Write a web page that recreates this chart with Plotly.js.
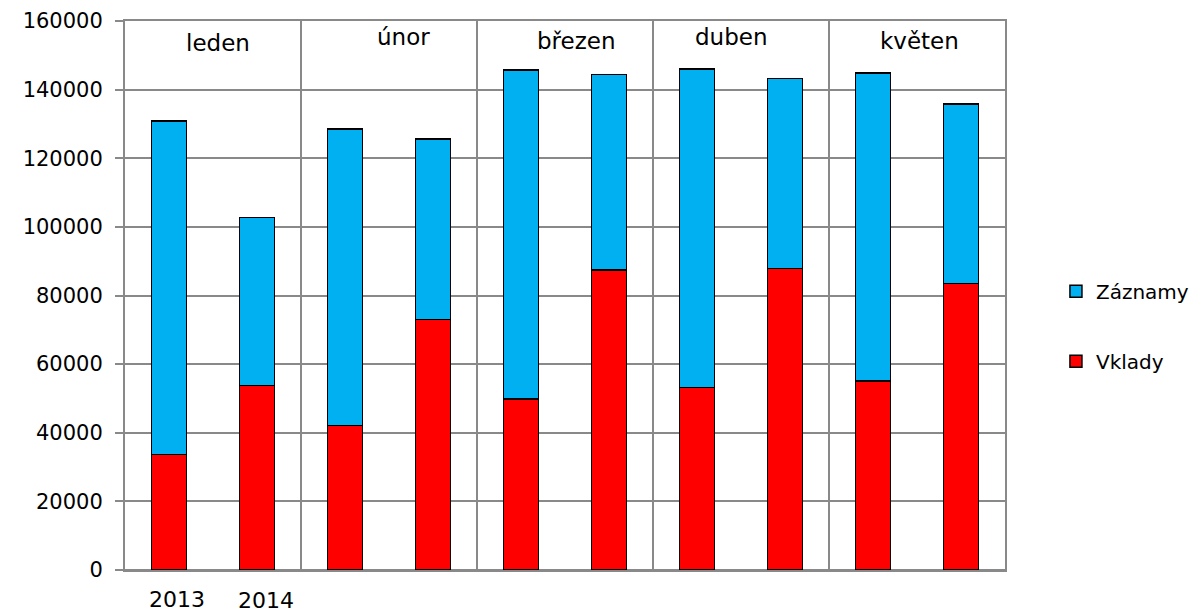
<!DOCTYPE html>
<html>
<head>
<meta charset="utf-8">
<script src="https://cdn.plot.ly/plotly-3.0.1.min.js"></script>
<style>html,body{margin:0;padding:0;background:#fff;}#chart{width:1196px;height:614px;}</style>
</head>
<body>
<div id="chart"></div>
<script>
// Data
const months = ["leden", "únor", "březen", "duben", "květen"];
const years = ["2013", "2014"];
const vklady = [33650, 53700, 42100, 73000, 49800, 87450, 53200, 87900, 55150, 83450];
const zaznamy = [97250, 49100, 86400, 52550, 95900, 57000, 92850, 55400, 89750, 52400];
const yTicks = [0, 20000, 40000, 60000, 80000, 100000, 120000, 140000, 160000];

const FONT = "DejaVu Sans";
const GRID = "#898989";
const xs = vklady.map((_, i) => i);
const monthBounds = months.map((_, i) => i * 2 - 0.5).concat([months.length * 2 - 0.5]);

const traces = [
  {type: "bar", name: "Vklady", x: xs, y: vklady, legendgroup: "v", legendrank: 2,
   marker: {color: "#FF0000", line: {color: "#000000", width: 1.5}}, width: 0.4},
  {type: "bar", name: "Záznamy", x: xs, y: zaznamy, legendgroup: "z", legendrank: 1,
   marker: {color: "#00B0F0", line: {color: "#000000", width: 1.5}}, width: 0.4}
];

const monthPos = [[0.106, 0.960], [0.316, 0.971], [0.5136, 0.9636], [0.689, 0.971], [0.903, 0.9636]];
const annotations = months.map((m, i) => ({
  text: m, xref: "paper", yref: "paper", x: monthPos[i][0], y: monthPos[i][1],
  showarrow: false, xanchor: "center", yanchor: "middle",
  font: {family: FONT, size: 23, color: "#000"}
}));
const yearPos = [[0.059, -0.054], [0.160, -0.056]];
years.forEach((yr, i) => annotations.push({
  text: yr, xref: "paper", yref: "paper", x: yearPos[i][0], y: yearPos[i][1],
  showarrow: false, xanchor: "center", yanchor: "middle",
  font: {family: FONT, size: 22, color: "#000"}
}));

const layout = {
  width: 1196, height: 614,
  margin: {l: 125, r: 191, t: 21, b: 44},
  paper_bgcolor: "#fff", plot_bgcolor: "#fff",
  barmode: "stack",
  font: {family: FONT, size: 21, color: "#000"},
  xaxis: {
    range: [-0.5, 9.5], tickmode: "array", tickvals: monthBounds,
    showticklabels: false, ticks: "", showgrid: true, gridcolor: GRID, gridwidth: 2,
    zeroline: false, showline: true, mirror: true, linecolor: GRID, linewidth: 2
  },
  yaxis: {
    range: [0, 160000], tickmode: "array", tickvals: yTicks, ticktext: yTicks.map(String),
    ticks: "outside", ticklen: 8, tickwidth: 2, tickcolor: GRID, ticklabelstandoff: 8,
    showgrid: true, gridcolor: GRID, gridwidth: 2,
    zeroline: true, zerolinecolor: GRID, zerolinewidth: 2,
    showline: true, mirror: true, linecolor: GRID, linewidth: 2,
    tickfont: {family: FONT, size: 21, color: "#000"}
  },
  showlegend: true,
  legend: {
    xref: "container", x: 0.8829, xanchor: "left",
    y: 0.444, yanchor: "middle",
    traceorder: "grouped", tracegroupgap: 41,
    font: {family: FONT, size: 20, color: "#000"},
    itemwidth: 30, bgcolor: "rgba(0,0,0,0)"
  },
  annotations: annotations
};

Plotly.newPlot("chart", traces, layout, {displayModeBar: false, staticPlot: true});
</script>
</body>
</html>
